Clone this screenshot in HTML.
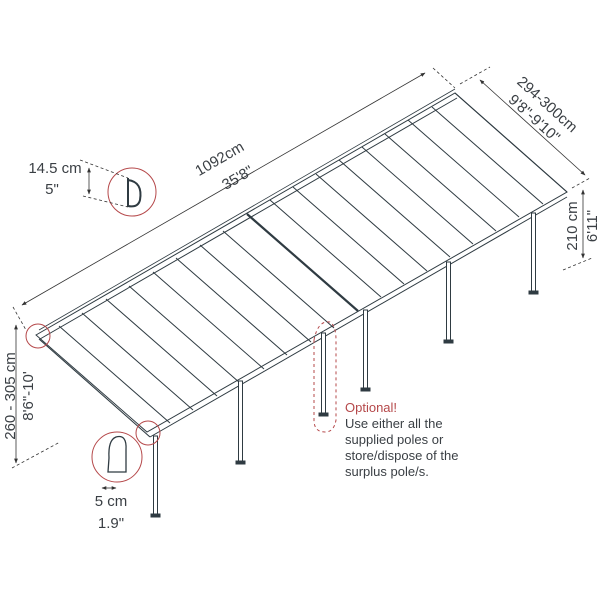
<!DOCTYPE html>
<html><head><meta charset="utf-8"><style>
html,body{margin:0;padding:0;background:#fff}
svg{display:block}
text{font-family:"Liberation Sans",sans-serif;fill:#3a3f44}
</style></head><body>
<svg width="600" height="600" viewBox="0 0 600 600" xmlns="http://www.w3.org/2000/svg">
<defs>
<marker id="ar" viewBox="0 0 10 10" refX="9" refY="5" markerWidth="6" markerHeight="6" orient="auto-start-reverse"><path d="M0,1 L10,5 L0,9 z" fill="#333"/></marker>
</defs>
<g stroke="#2f3b42" fill="none" stroke-width="1">
<polygon points="36,335 455,93 567,192 147,432" fill="#fff"/>
<line x1="40" y1="339" x2="457" y2="98"/>
<line x1="150" y1="437" x2="567" y2="197"/>
<line x1="39" y1="330" x2="455" y2="89" stroke-width="0.8"/>
<line x1="39" y1="339" x2="150" y2="437" stroke-width="1.1"/>
<line x1="455" y1="93" x2="567" y2="192" stroke-width="1.1"/>
<line x1="247" y1="214" x2="358" y2="311" stroke-width="2.2"/>
<line x1="59" y1="326" x2="170" y2="423"/>
<line x1="82" y1="313" x2="193" y2="410"/>
<line x1="106" y1="299" x2="217" y2="396"/>
<line x1="129" y1="286" x2="240" y2="383"/>
<line x1="153" y1="272" x2="264" y2="369"/>
<line x1="176" y1="258" x2="287" y2="355"/>
<line x1="200" y1="245" x2="311" y2="342"/>
<line x1="223" y1="231" x2="334" y2="328"/>
<line x1="270" y1="200" x2="381" y2="297"/>
<line x1="293" y1="187" x2="404" y2="284"/>
<line x1="316" y1="174" x2="427" y2="271"/>
<line x1="339" y1="160" x2="450" y2="257"/>
<line x1="362" y1="147" x2="473" y2="244"/>
<line x1="385" y1="134" x2="496" y2="231"/>
<line x1="408" y1="120" x2="519" y2="217"/>
<line x1="432" y1="107" x2="543" y2="204"/>
</g>
<g stroke="#2f3b42" fill="#fff" stroke-width="1">
<rect x="153.5" y="436" width="4" height="78"/>
<rect x="238.5" y="381" width="4" height="80"/>
<rect x="321.5" y="333" width="4" height="80"/>
<rect x="363.5" y="310" width="4" height="78"/>
<rect x="446.5" y="262" width="4" height="78"/>
<rect x="531.5" y="213" width="4" height="78"/>
<path d="M151,514 h9 v3 h-9z M236,461 h9 v3 h-9z M319,413 h9 v3 h-9z M361,388 h9 v3 h-9z M444,340 h9 v3 h-9z M529,291 h9 v3 h-9z" fill="#2f3b42"/>
</g>
<g stroke="#b5484a" fill="none" stroke-width="1">
<circle cx="132" cy="192" r="24"/>
<circle cx="38" cy="336" r="12"/>
<circle cx="148" cy="433" r="12"/>
<circle cx="117" cy="457" r="25"/>
<path d="M314,340 Q318,320 330,322 Q336,326 336,340 L336,420 Q334,432 325,432 Q314,432 314,420 Z" stroke-dasharray="3,3"/>
</g>
<g stroke="#2f3b42" fill="none">
<path d="M128,180 Q143,182 140,200 Q138,208 128,206 M128,178 L128,207" stroke-width="2"/>
<path d="M109,458 Q108,440 116,437 Q127,434 126,450 L126,472 L108,472 Z" stroke-width="1.3"/>
</g>
<g stroke="#333" stroke-width="0.8" fill="none" stroke-dasharray="3,2.5">
<line x1="80" y1="160" x2="128" y2="178"/>
<line x1="83" y1="196" x2="128" y2="207"/>
<line x1="13" y1="307" x2="26" y2="330"/>
<line x1="12" y1="468" x2="60" y2="442"/>
<line x1="433" y1="68" x2="455" y2="88"/>
<line x1="460" y1="84" x2="490" y2="67"/>
<line x1="572" y1="188" x2="590" y2="178"/>
<line x1="563" y1="270" x2="592" y2="258"/>
</g>
<g stroke="#333" stroke-width="0.8" fill="none">
<line x1="22" y1="305" x2="425" y2="73" marker-start="url(#ar)" marker-end="url(#ar)"/>
<line x1="480" y1="80" x2="585" y2="175" marker-start="url(#ar)" marker-end="url(#ar)"/>
<line x1="583" y1="190" x2="583" y2="258" marker-start="url(#ar)" marker-end="url(#ar)"/>
<line x1="16" y1="325" x2="16" y2="463" marker-start="url(#ar)" marker-end="url(#ar)"/>
<line x1="89" y1="168" x2="89" y2="194" marker-start="url(#ar)" marker-end="url(#ar)"/>
<line x1="102" y1="488" x2="116" y2="488" marker-start="url(#ar)" marker-end="url(#ar)"/>
</g>
<g font-size="15">
<text x="222" y="163" text-anchor="middle" transform="rotate(-30 222 163)">1092cm</text>
<text x="240" y="182" text-anchor="middle" transform="rotate(-30 240 182)">35'8"</text>
<text x="544" y="108" text-anchor="middle" transform="rotate(42 544 108)">294-300cm</text>
<text x="531" y="122" text-anchor="middle" transform="rotate(42 531 122)">9'8"-9'10"</text>
<text x="577" y="226" text-anchor="middle" transform="rotate(-90 577 226)">210 cm</text>
<text x="597" y="226" text-anchor="middle" transform="rotate(-90 597 226)">6'11"</text>
<text x="15" y="396" text-anchor="middle" transform="rotate(-90 15 396)">260 - 305 cm</text>
<text x="33" y="396" text-anchor="middle" transform="rotate(-90 33 396)">8'6"-10'</text>
<text x="55" y="173" text-anchor="middle">14.5 cm</text>
<text x="52" y="194" text-anchor="middle">5"</text>
<text x="111" y="506" text-anchor="middle">5 cm</text>
<text x="111" y="528" text-anchor="middle">1.9"</text>
</g>
<g font-size="13">
<text x="345" y="412" style="fill:#b5484a">Optional!</text>
<text x="345" y="428">Use either all the</text>
<text x="345" y="444">supplied poles or</text>
<text x="345" y="460">store/dispose of the</text>
<text x="345" y="476">surplus pole/s.</text>
</g>
</svg>
</body></html>
